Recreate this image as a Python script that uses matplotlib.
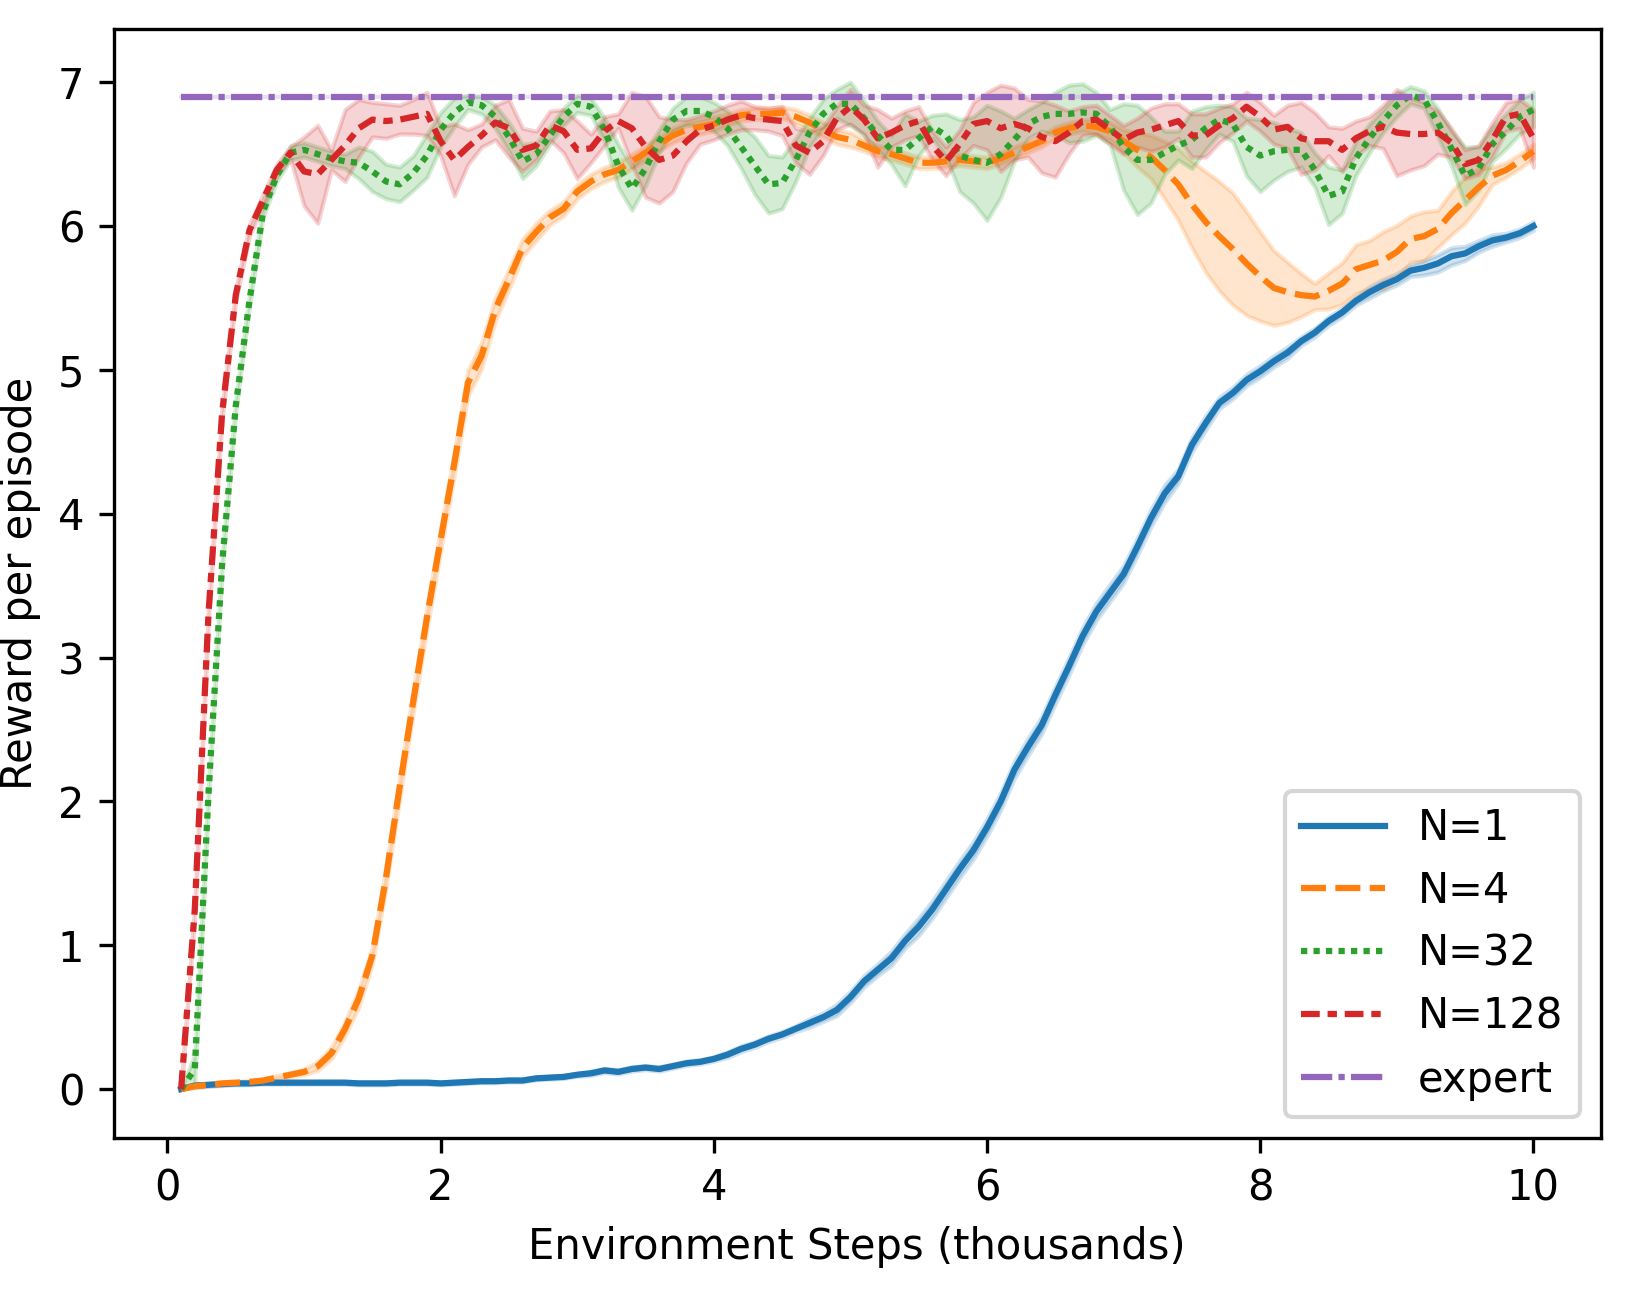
import numpy as np
import matplotlib
matplotlib.use("Agg")
import matplotlib.pyplot as plt

# environment steps (thousands)
steps = np.round(np.arange(1, 101) * 0.1, 1)

# mean reward per episode and half width of the error band
n1_mean = [0.00, 0.025, 0.03, 0.035, 0.04, 0.04, 0.045, 0.045, 0.045, 0.045,
           0.045, 0.045, 0.045, 0.04, 0.04, 0.04, 0.045, 0.045, 0.045, 0.04,
           0.045, 0.05, 0.055, 0.055, 0.06, 0.06, 0.075, 0.08, 0.085, 0.10,
           0.11, 0.13, 0.12, 0.14, 0.15, 0.14, 0.16, 0.18, 0.19, 0.21,
           0.24, 0.28, 0.31, 0.35, 0.38, 0.42, 0.46, 0.50, 0.55, 0.64,
           0.75, 0.83, 0.91, 1.03, 1.13, 1.25, 1.39, 1.53, 1.66, 1.82,
           2.00, 2.22, 2.38, 2.53, 2.74, 2.94, 3.15, 3.32, 3.45, 3.58,
           3.77, 3.97, 4.14, 4.26, 4.48, 4.63, 4.77, 4.84, 4.93, 4.99,
           5.06, 5.12, 5.20, 5.26, 5.34, 5.40, 5.48, 5.54, 5.59, 5.63,
           5.69, 5.71, 5.74, 5.79, 5.81, 5.86, 5.90, 5.92, 5.95, 6.00]
n1_err = [0.0, 0.01, 0.01, 0.01, 0.01, 0.01, 0.01, 0.01, 0.01, 0.01,
          0.01, 0.01, 0.01, 0.01, 0.01, 0.01, 0.01, 0.01, 0.01, 0.01,
          0.01, 0.01, 0.01, 0.01, 0.01, 0.01, 0.01, 0.01, 0.01, 0.01,
          0.015, 0.015, 0.015, 0.015, 0.015, 0.015, 0.015, 0.015, 0.015, 0.015,
          0.02, 0.02, 0.02, 0.02, 0.02, 0.02, 0.03, 0.03, 0.04, 0.04,
          0.04, 0.04, 0.05, 0.05, 0.06, 0.06, 0.06, 0.06, 0.06, 0.06,
          0.06, 0.06, 0.06, 0.06, 0.06, 0.06, 0.06, 0.06, 0.06, 0.06,
          0.06, 0.06, 0.06, 0.05, 0.05, 0.05, 0.04, 0.04, 0.04, 0.04,
          0.04, 0.04, 0.03, 0.03, 0.03, 0.03, 0.03, 0.04, 0.04, 0.04,
          0.04, 0.05, 0.06, 0.06, 0.05, 0.04, 0.04, 0.03, 0.03, 0.03]

n4_mean = [0.0, 0.02, 0.03, 0.04, 0.045, 0.05, 0.06, 0.08, 0.10, 0.12,
           0.16, 0.25, 0.42, 0.63, 0.93, 1.47, 2.10, 2.70, 3.28, 3.82,
           4.35, 4.91, 5.10, 5.42, 5.63, 5.85, 5.96, 6.06, 6.12, 6.24,
           6.31, 6.36, 6.39, 6.45, 6.51, 6.57, 6.63, 6.67, 6.69, 6.71,
           6.74, 6.77, 6.78, 6.78, 6.79, 6.76, 6.72, 6.67, 6.62, 6.60,
           6.56, 6.52, 6.50, 6.47, 6.44, 6.44, 6.45, 6.46, 6.45, 6.44,
           6.47, 6.51, 6.55, 6.59, 6.65, 6.68, 6.70, 6.69, 6.66, 6.59,
           6.53, 6.48, 6.39, 6.29, 6.15, 6.03, 5.93, 5.84, 5.74, 5.65,
           5.57, 5.54, 5.52, 5.51, 5.55, 5.60, 5.70, 5.73, 5.76, 5.82,
           5.91, 5.93, 5.98, 6.09, 6.18, 6.27, 6.35, 6.39, 6.45, 6.52]
n4_err = [0.0, 0.01, 0.01, 0.01, 0.01, 0.01, 0.01, 0.015, 0.015, 0.02,
          0.03, 0.04, 0.05, 0.06, 0.06, 0.07, 0.08, 0.08, 0.08, 0.08,
          0.08, 0.09, 0.09, 0.08, 0.07, 0.06, 0.06, 0.05, 0.05, 0.05,
          0.05, 0.05, 0.05, 0.05, 0.05, 0.05, 0.05, 0.05, 0.05, 0.05,
          0.04, 0.04, 0.04, 0.04, 0.04, 0.05, 0.05, 0.05, 0.05, 0.05,
          0.04, 0.04, 0.04, 0.04, 0.04, 0.04, 0.04, 0.04, 0.04, 0.04,
          0.04, 0.04, 0.04, 0.04, 0.04, 0.04, 0.04, 0.05, 0.06, 0.08,
          0.12, 0.15, 0.20, 0.25, 0.30, 0.35, 0.38, 0.39, 0.36, 0.31,
          0.26, 0.21, 0.15, 0.09, 0.125, 0.145, 0.17, 0.17, 0.20, 0.185,
          0.16, 0.17, 0.13, 0.15, 0.16, 0.13, 0.06, 0.05, 0.05, 0.05]

n32_mean = [0.0, 0.14, 2.05, 3.65, 4.75, 5.48, 6.10, 6.35, 6.51, 6.53,
            6.50, 6.47, 6.45, 6.44, 6.38, 6.31, 6.29, 6.37, 6.49, 6.67,
            6.79, 6.86, 6.84, 6.76, 6.62, 6.45, 6.50, 6.63, 6.76, 6.85,
            6.83, 6.67, 6.42, 6.26, 6.40, 6.59, 6.74, 6.80, 6.80, 6.76,
            6.68, 6.55, 6.42, 6.29, 6.30, 6.46, 6.65, 6.78, 6.85, 6.85,
            6.75, 6.63, 6.53, 6.53, 6.61, 6.69, 6.63, 6.49, 6.46, 6.44,
            6.50, 6.60, 6.71, 6.76, 6.78, 6.78, 6.79, 6.78, 6.69, 6.55,
            6.46, 6.46, 6.51, 6.56, 6.60, 6.68, 6.74, 6.71, 6.55, 6.49,
            6.52, 6.53, 6.53, 6.39, 6.21, 6.24, 6.47, 6.61, 6.73, 6.84,
            6.91, 6.88, 6.72, 6.54, 6.35, 6.40, 6.57, 6.66, 6.76, 6.81]
n32_err = [0.0, 0.10, 0.04, 0.04, 0.04, 0.04, 0.04, 0.04, 0.05, 0.05,
           0.05, 0.05, 0.05, 0.11, 0.14, 0.12, 0.12, 0.12, 0.15, 0.12,
           0.10, 0.05, 0.06, 0.08, 0.10, 0.12, 0.08, 0.06, 0.06, 0.06,
           0.06, 0.08, 0.15, 0.15, 0.12, 0.08, 0.08, 0.10, 0.10, 0.10,
           0.12, 0.15, 0.20, 0.20, 0.18, 0.15, 0.10, 0.10, 0.10, 0.15,
           0.12, 0.10, 0.10, 0.25, 0.12, 0.08, 0.15, 0.25, 0.30, 0.40,
           0.30, 0.15, 0.10, 0.10, 0.15, 0.20, 0.20, 0.15, 0.12, 0.30,
           0.38, 0.30, 0.15, 0.10, 0.20, 0.15, 0.10, 0.12, 0.20, 0.25,
           0.20, 0.15, 0.12, 0.12, 0.20, 0.15, 0.12, 0.10, 0.08, 0.08,
           0.06, 0.06, 0.10, 0.12, 0.20, 0.15, 0.12, 0.12, 0.12, 0.12]

n128_mean = [0.0, 1.25, 3.30, 4.70, 5.52, 5.97, 6.18, 6.39, 6.51, 6.38,
             6.36, 6.46, 6.56, 6.68, 6.74, 6.73, 6.74, 6.76, 6.78, 6.59,
             6.46, 6.55, 6.63, 6.72, 6.68, 6.53, 6.56, 6.70, 6.66, 6.53,
             6.54, 6.66, 6.73, 6.68, 6.55, 6.46, 6.49, 6.59, 6.67, 6.70,
             6.74, 6.77, 6.75, 6.74, 6.73, 6.56, 6.51, 6.59, 6.75, 6.83,
             6.74, 6.61, 6.65, 6.70, 6.73, 6.56, 6.45, 6.57, 6.71, 6.73,
             6.68, 6.71, 6.68, 6.62, 6.59, 6.65, 6.73, 6.74, 6.67, 6.60,
             6.65, 6.67, 6.70, 6.73, 6.63, 6.63, 6.70, 6.75, 6.83, 6.76,
             6.67, 6.69, 6.61, 6.59, 6.59, 6.53, 6.61, 6.66, 6.69, 6.65,
             6.64, 6.64, 6.65, 6.58, 6.43, 6.46, 6.60, 6.76, 6.78, 6.61]
n128_err = [0.0, 0.04, 0.04, 0.04, 0.04, 0.04, 0.04, 0.04, 0.04, 0.24,
            0.34, 0.07, 0.25, 0.20, 0.12, 0.12, 0.10, 0.12, 0.15, 0.10,
            0.25, 0.12, 0.08, 0.12, 0.20, 0.15, 0.10, 0.10, 0.15, 0.20,
            0.10, 0.10, 0.05, 0.25, 0.35, 0.30, 0.25, 0.15, 0.10, 0.10,
            0.10, 0.10, 0.08, 0.08, 0.10, 0.12, 0.15, 0.10, 0.08, 0.12,
            0.10, 0.20, 0.10, 0.10, 0.10, 0.10, 0.10, 0.10, 0.15, 0.20,
            0.30, 0.25, 0.20, 0.25, 0.25, 0.15, 0.10, 0.10, 0.10, 0.10,
            0.10, 0.15, 0.15, 0.12, 0.15, 0.15, 0.12, 0.10, 0.10, 0.10,
            0.10, 0.15, 0.25, 0.20, 0.10, 0.15, 0.12, 0.10, 0.15, 0.30,
            0.25, 0.22, 0.15, 0.10, 0.10, 0.10, 0.12, 0.10, 0.10, 0.20]

expert_reward = 6.9

labels = ["N=1", "N=4", "N=32", "N=128", "expert"]
colors = ["#1f77b4", "#ff7f0e", "#2ca02c", "#d62728", "#9467bd"]
# seaborn style dash sequences
dashes = ["", (4, 1.5), (1, 1), (3, 1.25, 1.5, 1.25), (5, 1, 1, 1)]

means = [n1_mean, n4_mean, n32_mean, n128_mean, [expert_reward] * len(steps)]
errs = [n1_err, n4_err, n32_err, n128_err, [0.0] * len(steps)]

fig = plt.figure(figsize=(1631 / 300, 1295 / 300), dpi=300)
ax = fig.add_axes([0.0696, 0.1212, 0.912, 0.8564])

for lab, c, d, m, e in zip(labels, colors, dashes, means, errs):
    m = np.array(m)
    e = np.array(e)
    line, = ax.plot(steps, m, color=c, lw=1.5, label=lab)
    if d:
        line.set_dashes(d)
    ax.fill_between(steps, m - e, m + e, color=c, alpha=0.2)

ax.set_xlim(-0.395, 10.495)
ax.set_ylim(-0.34, 7.37)
ax.set_xlabel("Environment Steps (thousands)")
ax.set_ylabel("Reward per episode")
ax.legend(loc="lower right")

fig.savefig("out.png", dpi=300)
